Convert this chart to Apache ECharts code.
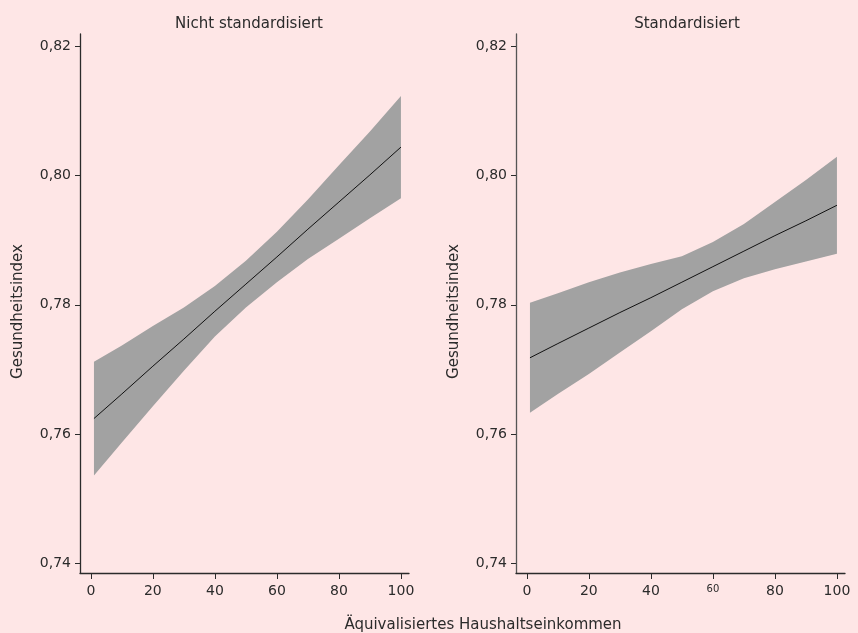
<!DOCTYPE html>
<html>
<head>
<meta charset="utf-8">
<script src="https://cdn.jsdelivr.net/npm/echarts@6/dist/echarts.min.js"></script>
<style>
  html, body { margin: 0; padding: 0; background: #fee6e6; }
  #chart { width: 858px; height: 633px; }
</style>
</head>
<body>
<div id="chart"></div>
<script>
// income percentile positions where the curves were read
const xs = [1, 10, 20, 30, 40, 50, 60, 70, 80, 90, 100];

// Nicht standardisiert
const rawFit = [0.7624, 0.7662, 0.7705, 0.7747, 0.7790, 0.7832, 0.7874, 0.7917, 0.7959, 0.8001, 0.8044];
const rawUpper = [0.7712, 0.7737, 0.7767, 0.7796, 0.7829, 0.7868, 0.7913, 0.7963, 0.8016, 0.8068, 0.8123];
const rawLower = [0.7536, 0.7587, 0.7643, 0.7698, 0.7751, 0.7796, 0.7835, 0.7871, 0.7902, 0.7934, 0.7965];

// Standardisiert
const stdFit = [0.7718, 0.7740, 0.7764, 0.7788, 0.7811, 0.7835, 0.7859, 0.7883, 0.7907, 0.7930, 0.7954];
const stdUpper = [0.7803, 0.7818, 0.7835, 0.7850, 0.7863, 0.7875, 0.7897, 0.7925, 0.7959, 0.7993, 0.8029];
const stdLower = [0.7633, 0.7662, 0.7693, 0.7726, 0.7759, 0.7793, 0.7821, 0.7841, 0.7855, 0.7867, 0.7879];

const xTicks = [0, 20, 40, 60, 80, 100];
const yTicks = [0.74, 0.76, 0.78, 0.80, 0.82];
const panelTitles = ['Nicht standardisiert', 'Standardisiert'];
const xTitle = 'Äquivalisiertes Haushaltseinkommen';
const yTitle = 'Gesundheitsindex';

const font = '"DejaVu Sans", sans-serif';
const ink = '#2b2b2b';
const bandColor = '#a2a2a2';

const chart = echarts.init(document.getElementById('chart'), null, { renderer: 'canvas' });

const gridLefts = [80, 516];

function xAxisFor(i) {
  return {
    type: 'value',
    gridIndex: i,
    min: -3.5,
    max: 102.6,
    axisLine: { show: true, onZero: false, lineStyle: { color: ink, width: 1.3 } },
    axisTick: { show: true, customValues: xTicks, length: 6, lineStyle: { color: ink } },
    axisLabel: {
      customValues: xTicks,
      color: ink,
      fontFamily: font,
      fontSize: 14,
      margin: 11,
      formatter: (v) => (i === 1 && v === 60 ? '{s|60}' : String(v)),
      rich: { s: { fontSize: 10, fontFamily: font, color: ink, padding: [0, 0, 6, 0] } }
    },
    splitLine: { show: false }
  };
}

function yAxisFor(i) {
  return {
    type: 'value',
    gridIndex: i,
    min: 0.7385,
    max: 0.8219,
    name: yTitle,
    nameLocation: 'middle',
    nameRotate: 90,
    nameGap: 54,
    nameTextStyle: { color: ink, fontFamily: font, fontSize: 15, padding: [0, 16, 0, 0] },
    axisLine: { show: true, onZero: false, lineStyle: { color: i === 0 ? ink : '#555', width: 1.3 } },
    axisTick: { show: true, customValues: yTicks, length: 5, lineStyle: { color: ink } },
    axisLabel: {
      customValues: yTicks,
      color: ink,
      fontFamily: font,
      fontSize: 14,
      margin: 9,
      formatter: (v) => v.toFixed(2).replace('.', ',')
    },
    splitLine: { show: false }
  };
}

function bandSeries(i, lower, upper, fit) {
  return [
    {
      type: 'custom',
      xAxisIndex: i,
      yAxisIndex: i,
      data: xs.map((x, k) => [x, lower[k], upper[k]]),
      encode: { x: 0, y: [1, 2] },
      silent: true,
      renderItem: (params, api) => {
        if (params.dataIndex !== 0) return null;
        const top = xs.map((x, k) => api.coord([x, upper[k]]));
        const bottom = xs.map((x, k) => api.coord([x, lower[k]])).reverse();
        return {
          type: 'polygon',
          shape: { points: top.concat(bottom) },
          style: { fill: bandColor }
        };
      }
    },
    {
      type: 'line',
      xAxisIndex: i,
      yAxisIndex: i,
      data: xs.map((x, k) => [x, fit[k]]),
      showSymbol: false,
      lineStyle: { color: '#111', width: 1 },
      z: 5
    }
  ];
}

const titleStyle = { color: ink, fontFamily: font, fontSize: 15, fontWeight: 'normal' };

const option = {
  backgroundColor: '#fee6e6',
  animation: false,
  title: [
    { text: panelTitles[0], left: 244, top: 12, textAlign: 'center', textStyle: titleStyle },
    { text: panelTitles[1], left: 682, top: 12, textAlign: 'center', textStyle: titleStyle },
    { text: xTitle, left: 478, top: 613, textAlign: 'center', textStyle: titleStyle }
  ],
  grid: gridLefts.map((l) => ({ left: l, top: 34, width: 329, height: 539 })),
  xAxis: [xAxisFor(0), xAxisFor(1)],
  yAxis: [yAxisFor(0), yAxisFor(1)],
  series: [
    ...bandSeries(0, rawLower, rawUpper, rawFit),
    ...bandSeries(1, stdLower, stdUpper, stdFit)
  ]
};

chart.setOption(option);
</script>
</body>
</html>
